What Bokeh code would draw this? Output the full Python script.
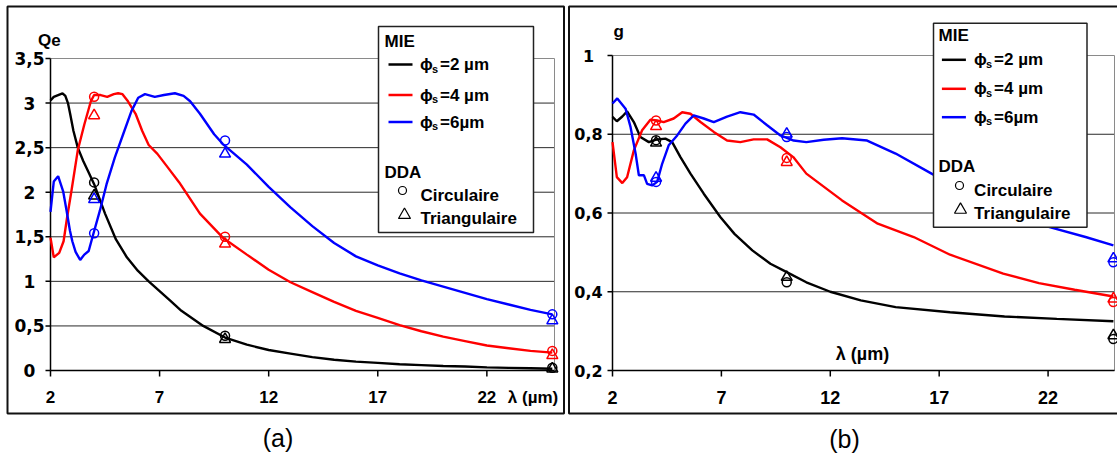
from math import pi
from bokeh.plotting import figure
from bokeh.models import Label, BoxAnnotation, Range1d
from bokeh.layouts import row
from bokeh.embed import file_html
from bokeh.resources import INLINE
from bokeh.core.properties import value

# ---------------- data : panel (a) Qe ----------------
lam_qe_2 = [2, 2.15, 2.35, 2.55, 2.68, 2.8, 2.9, 3.05, 3.25, 3.5, 3.75, 4.0, 4.5, 5.0, 5.5, 6.0,
            6.5, 7, 7.5, 8, 9, 10, 11, 12, 13, 14, 15, 16, 17, 18, 19, 20, 21, 22, 23, 24, 25]
qe_2 = [3.03, 3.07, 3.09, 3.11, 3.08, 3.0, 2.88, 2.69, 2.50, 2.35, 2.22, 2.09, 1.76, 1.47, 1.27, 1.12,
        1.0, 0.89, 0.78, 0.67, 0.50, 0.37, 0.29, 0.23, 0.19, 0.15, 0.12, 0.10, 0.085, 0.07, 0.06, 0.05,
        0.045, 0.035, 0.03, 0.025, 0.02]

lam_qe_4 = [2, 2.15, 2.4, 2.6, 2.75, 2.95, 3.25, 3.55, 3.85, 4.0, 4.3, 4.6, 4.9, 5.1, 5.3, 5.55, 5.9,
            6.2, 6.5, 6.9, 7.4, 7.9, 8.85, 9.9, 11, 12, 13, 14, 15, 16, 17, 18, 19, 20, 21, 22, 23, 24, 25]
qe_4 = [1.49, 1.27, 1.32, 1.45, 1.70, 2.0, 2.47, 2.76, 3.02, 3.09, 3.09, 3.07, 3.10, 3.11, 3.10, 3.02, 2.88,
        2.69, 2.53, 2.43, 2.27, 2.11, 1.76, 1.49, 1.30, 1.13, 0.99, 0.88, 0.77, 0.67, 0.59, 0.51, 0.44,
        0.38, 0.33, 0.28, 0.25, 0.22, 0.20]

lam_qe_6 = [2, 2.15, 2.35, 2.58, 2.74, 2.89, 3.0, 3.15, 3.36, 3.55, 3.75, 3.95, 4.26, 4.57, 4.95, 5.33,
            5.71, 6.02, 6.33, 6.78, 7.2, 7.7, 8.1, 8.4, 8.85, 9.5, 9.9, 11, 12, 13, 14, 15, 16, 17, 18,
            19, 20, 21, 22, 23, 24, 25]
qe_6 = [1.78, 2.12, 2.18, 2.01, 1.79, 1.57, 1.45, 1.33, 1.24, 1.30, 1.34, 1.52, 1.79, 2.09, 2.39, 2.65,
        2.91, 3.06, 3.10, 3.07, 3.09, 3.11, 3.08, 3.02, 2.88, 2.65, 2.54, 2.31, 2.06, 1.83, 1.62, 1.43,
        1.28, 1.18, 1.09, 1.01, 0.94, 0.87, 0.80, 0.74, 0.68, 0.63]

lam_dda = [4, 10, 25]
qe_circ_2 = [2.11, 0.39, 0.03]
qe_circ_4 = [3.07, 1.50, 0.22]
qe_circ_6 = [1.54, 2.58, 0.63]
qe_tri_2 = [1.96, 0.35, 0.02]
qe_tri_4 = [2.86, 1.42, 0.17]
qe_tri_6 = [1.92, 2.43, 0.56]

# ---------------- data : panel (b) g ----------------
lam_g_2 = [2, 2.2, 2.45, 2.67, 2.98, 3.28, 3.67, 3.97, 4.43, 4.74, 5.12, 5.58, 6.19, 6.95, 7.6, 8.42,
           9.25, 10, 10.9, 12, 13.4, 15, 17.5, 20, 22.4, 25]
g_2 = [0.844, 0.833, 0.845, 0.858, 0.831, 0.793, 0.780, 0.786, 0.789, 0.780, 0.742, 0.700, 0.649, 0.590,
       0.547, 0.505, 0.471, 0.450, 0.424, 0.400, 0.378, 0.361, 0.348, 0.337, 0.331, 0.325]

lam_g_4 = [2, 2.2, 2.45, 2.67, 2.98, 3.36, 3.74, 4.05, 4.35, 4.81, 5.2, 5.58, 6.04, 6.65, 7.26, 7.87,
           8.48, 9.1, 9.71, 10.3, 10.9, 12.54, 14.18, 15.83, 17.5, 19.94, 21.58, 23.22, 25]
g_4 = [0.780, 0.691, 0.676, 0.691, 0.759, 0.810, 0.837, 0.835, 0.831, 0.840, 0.856, 0.852, 0.831, 0.806,
       0.784, 0.780, 0.787, 0.787, 0.767, 0.742, 0.700, 0.632, 0.573, 0.539, 0.494, 0.446, 0.422, 0.405,
       0.388]

lam_g_6 = [2, 2.22, 2.6, 2.83, 3.06, 3.21, 3.44, 3.59, 3.82, 4.05, 4.28, 4.58, 4.97, 5.35, 5.73, 6.19,
           6.65, 7.26, 7.87, 8.48, 9.1, 9.71, 10.32, 10.9, 11.7, 12.54, 13.69, 15.0, 16.65, 18.5, 20.3,
           22.07, 23.72, 25]
g_6 = [0.878, 0.891, 0.865, 0.818, 0.751, 0.696, 0.696, 0.674, 0.670, 0.679, 0.725, 0.772, 0.797, 0.827,
       0.848, 0.840, 0.831, 0.845, 0.856, 0.850, 0.823, 0.797, 0.784, 0.780, 0.786, 0.790, 0.784, 0.751,
       0.700, 0.645, 0.600, 0.564, 0.539, 0.518]

g_circ_2 = [0.785, 0.424, 0.280]
g_circ_4 = [0.835, 0.740, 0.374]
g_circ_6 = [0.679, 0.793, 0.475]
g_tri_2 = [0.778, 0.437, 0.289]
g_tri_4 = [0.820, 0.729, 0.382]
g_tri_6 = [0.689, 0.801, 0.484]

# ---------------- ticks / labels ----------------
x_ticks = [2, 7, 12, 17, 22]
x_tick_labels = ["2", "7", "12", "17", "22"]
qe_ticks = [0, 0.5, 1, 1.5, 2, 2.5, 3, 3.5]
qe_tick_labels = ["0", "0,5", "1", "1,5", "2", "2,5", "3", "3,5"]
g_ticks = [0.2, 0.4, 0.6, 0.8, 1.0]
g_tick_labels = ["0,2", "0,4", "0,6", "0,8", "1"]

series_colors = ["#000000", "#ff0000", "#0000ff"]
legend_phi = ["=2 \u00b5m", "=4 \u00b5m", "=6\u00b5m"]

FONT = "Liberation Sans"
FONT_Y = "DejaVu Sans"


def build(width, height, origin, area, xr, yr):
    """Figure whose frame is the whole canvas; the plot area (page px) maps onto xr/yr."""
    l, t, r, b = area
    ox, oy = origin
    sx = (r - l) / (xr[1] - xr[0])
    sy = (b - t) / (yr[1] - yr[0])
    xrange = Range1d(xr[0] - (l - ox) / sx, xr[1] + (ox + width - r) / sx)
    yrange = Range1d(yr[0] - (oy + height - b) / sy, yr[1] + (t - oy) / sy)
    p = figure(width=width, height=height, x_range=xrange, y_range=yrange,
               x_axis_type=None, y_axis_type=None, output_backend="svg", toolbar_location=None,
               min_border=0, min_border_left=0, min_border_right=0, min_border_top=0,
               min_border_bottom=0, background_fill_color="white", border_fill_color="white")
    p.outline_line_color = None

    def conv(px, py):
        return (xr[0] + (px - l) / sx, yr[0] + (b - py) / sy)
    return p, conv


def draw_axes(p, xr, yr, yticks, ylabels, ylab_dx, ysize, xlab_dy, xsize):
    x0, x1 = xr
    y0, y1 = yr
    inner = [t for t in yticks if t < y1]
    p.segment(x0=[x0] * len(inner), x1=[x1] * len(inner), y0=inner, y1=inner,
              line_color="#2a2a2a", line_width=1)
    p.segment(x0=[x0, x1], x1=[x1, x1], y0=[y1, y0], y1=[y1, y1], line_color="#8a8a8a", line_width=1)
    p.segment(x0=[x0, x0], x1=[x0, x1], y0=[y0, y0], y1=[y1, y0], line_color="black", line_width=1.5)
    p.ray(x=[x0] * len(yticks), y=yticks, length=5, length_units="screen", angle=pi,
          line_color="black", line_width=1.5)
    p.ray(x=x_ticks, y=[y0] * len(x_ticks), length=6, length_units="screen", angle=-pi / 2,
          line_color="black", line_width=1.5)
    p.text(x=[x0] * len(yticks), y=yticks, text=ylabels, x_offset=ylab_dx,
           text_font=value(FONT_Y), text_font_size=value(f"{ysize}px"), text_font_style=value("bold"),
           text_color="black", text_baseline="middle", text_align="center")
    p.text(x=x_ticks, y=[y0] * len(x_ticks), text=x_tick_labels, y_offset=xlab_dy,
           text_font=value(FONT), text_font_size=value(f"{xsize}px"), text_font_style=value("bold"),
           text_color="black", text_baseline="middle", text_align="center")


def add_text(p, conv, px, py, text, size=17, bold=True, align="left", baseline="middle"):
    x, y = conv(px, py)
    p.add_layout(Label(x=x, y=y, text=text, text_font=FONT, text_font_size=f"{size}px",
                       text_font_style="bold" if bold else "normal", text_align=align,
                       text_baseline=baseline, text_color="black", level="overlay"))


def draw_series(p, lams, vals, circ, tri):
    for lam, v, c in zip(lams, vals, series_colors):
        p.line(lam, v, line_color=c, line_width=2.4)
    for yc, yt, c in zip(circ, tri, series_colors):
        p.scatter(lam_dda, yc, marker="circle", size=9, line_color=c, line_width=1.5, fill_alpha=0)
        p.scatter(lam_dda, yt, marker="triangle", size=11, line_color=c, line_width=1.5, fill_alpha=0)


def draw_legend(p, conv, box, mie, rows, line_x, text_x, dda, circ_pt, circ_txt, tri_pt, tri_txt):
    l, t, r, b = box
    x0, y0 = conv(l, t)
    x1, y1 = conv(r, b)
    p.add_layout(BoxAnnotation(left=x0, right=x1, top=y0, bottom=y1, fill_color="white", fill_alpha=1,
                               line_color="#222222", line_alpha=1, line_width=1.5))
    add_text(p, conv, mie[0], mie[1], "MIE")
    for ry, c, lab in zip(rows, series_colors, legend_phi):
        a = conv(line_x[0], ry)
        e = conv(line_x[1], ry)
        p.line([a[0], e[0]], [a[1], e[1]], line_color=c, line_width=2.5, level="overlay")
        add_text(p, conv, text_x, ry, "\u03d5")
        add_text(p, conv, text_x + 12, ry + 4, "s", size=11)
        add_text(p, conv, text_x + 20, ry, lab)
    add_text(p, conv, dda[0], dda[1], "DDA")
    cx, cy = conv(*circ_pt)
    p.scatter([cx], [cy], marker="circle", size=8, line_color="black", line_width=1.2, fill_alpha=0,
              level="overlay")
    add_text(p, conv, circ_txt[0], circ_txt[1], "Circulaire")
    tx, ty = conv(*tri_pt)
    p.scatter([tx], [ty], marker="triangle", size=12, line_color="black", line_width=1.2, fill_alpha=0,
              level="overlay")
    add_text(p, conv, tri_txt[0], tri_txt[1], "Triangulaire")


def panel_border(p, conv, l, t, r, b):
    x0, y0 = conv(l, t)
    x1, y1 = conv(r, b)
    p.add_layout(BoxAnnotation(left=x0, right=x1, top=y0, bottom=y1, fill_alpha=0,
                               line_color="#111111", line_alpha=1, line_width=2))


# ---------------- panel (a) ----------------
xr_a, yr_a = (2, 25.1), (0, 3.5)
pa, ca = build(566, 455, (0, 0), (50, 58, 554, 370), xr_a, yr_a)
draw_axes(pa, xr_a, yr_a, qe_ticks, qe_tick_labels, -21, 17, 26, 17)
draw_series(pa, [lam_qe_2, lam_qe_4, lam_qe_6], [qe_2, qe_4, qe_6],
            [qe_circ_2, qe_circ_4, qe_circ_6], [qe_tri_2, qe_tri_4, qe_tri_6])
draw_legend(pa, ca, (378, 26, 533, 232), (384, 40.5), [64, 94.5, 121.5], (388, 412), 419.5,
            (384, 171.7), (402, 190), (420, 195), (404, 214.5), (420, 218.3))
add_text(pa, ca, 37.5, 40, "Qe")
add_text(pa, ca, 532.5, 397, "\u03bb (\u00b5m)", align="center")
add_text(pa, ca, 277.5, 437, "(a)", size=25, bold=False, align="center")
panel_border(pa, ca, 7, 6, 563.5, 413)

# ---------------- panel (b) ----------------
xr_b, yr_b = (2, 25.05), (0.2, 1.0)
pb, cb = build(551, 455, (566, 0), (612, 55, 1114, 370), xr_b, yr_b)
draw_axes(pb, xr_b, yr_b, g_ticks, g_tick_labels, -24, 16, 27, 18)
draw_series(pb, [lam_g_2, lam_g_4, lam_g_6], [g_2, g_4, g_6],
            [g_circ_2, g_circ_4, g_circ_6], [g_tri_2, g_tri_4, g_tri_6])
draw_legend(pb, cb, (933, 22.7, 1086.5, 226.7), (938, 35), [59.3, 88.3, 116.7], (941.4, 965.4), 973.6,
            (938, 165.7), (959, 185), (973.6, 190), (960, 209.3), (973.6, 213.3))
add_text(pb, cb, 613, 31, "g")
add_text(pb, cb, 862, 353, "\u03bb (\u00b5m)", size=18, align="center")
add_text(pb, cb, 844, 438, "(b)", size=25, bold=False, align="center")
panel_border(pb, cb, 568.5, 6, 1130, 413)

layout = row(pa, pb)
open("out.html", "w").write(file_html(layout, INLINE))
